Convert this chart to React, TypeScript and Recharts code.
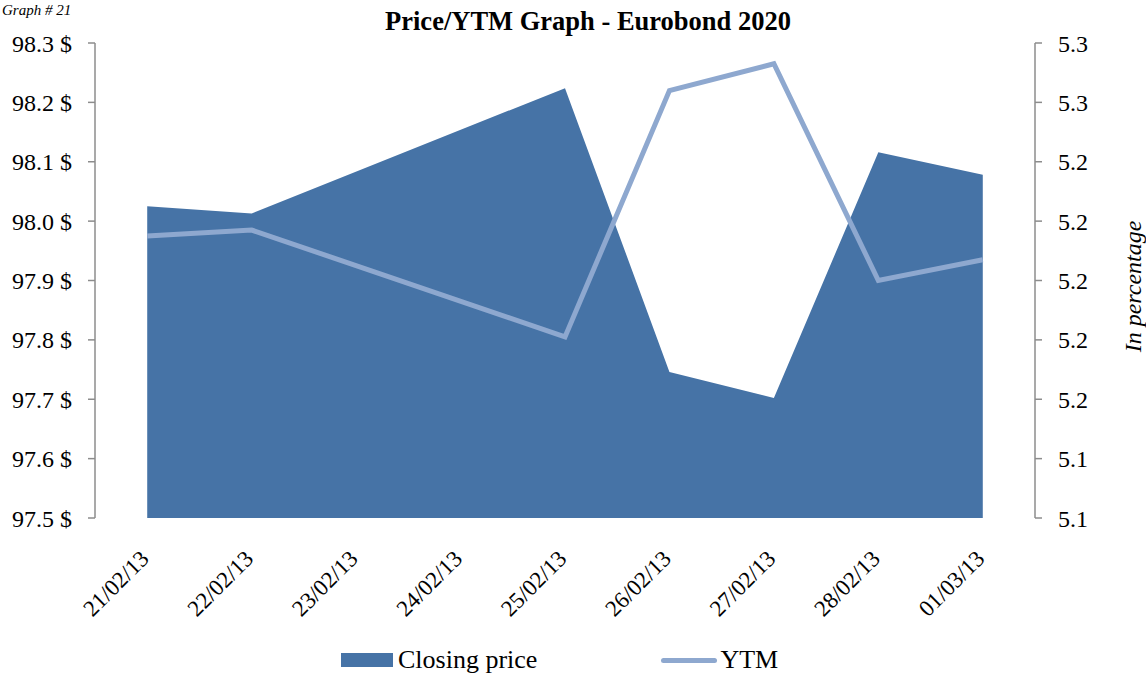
import React from 'react';
import { ComposedChart, Area, Line, XAxis, YAxis } from 'recharts';

const dates = [
  '21/02/13', '22/02/13', '23/02/13', '24/02/13', '25/02/13',
  '26/02/13', '27/02/13', '28/02/13', '01/03/13',
];
// weekend days (23/02, 24/02) have no quotes
const closingPrice = [98.025, 98.013, null, null, 98.224, 97.746, 97.702, 98.116, 98.078];
const ytm = [5.215, 5.217, null, null, 5.181, 5.264, 5.273, 5.2, 5.207];

const priceTicks = [97.5, 97.6, 97.7, 97.8, 97.9, 98.0, 98.1, 98.2, 98.3];
const ytmTicks = [5.12, 5.14, 5.16, 5.18, 5.2, 5.22, 5.24, 5.26, 5.28];
const indexTicks = [0, 1, 2, 3, 4, 5, 6, 7, 8];
const boundaryTicks = [-0.5, 0.5, 1.5, 2.5, 3.5, 4.5, 5.5, 6.5, 7.5, 8.5];

const data = dates.map((d, i) => ({ idx: i, date: d, price: closingPrice[i], ytm: ytm[i] }));

const AREA = '#4673a6';
const LINE = '#8ea8cf';
const AXIS = '#8c8c8c';
const FONT = '"Liberation Serif", "Times New Roman", serif';

const DateTick = (props: any) => {
  const { x, y, payload } = props;
  return (
    <g transform={`translate(${x + 3},${y + 34})`}>
      <text x={0} y={0} textAnchor="end" transform="rotate(-45)" style={{ fontSize: 23, fontFamily: FONT, fill: '#000' }}>
        {dates[payload.value]}
      </text>
    </g>
  );
};

export default function App() {
  const tickStyle = { fontSize: 24, fill: '#000', style: { fontFamily: FONT } };
  return (
    <div style={{ position: 'absolute', left: 0, top: 0, width: 1146, height: 677, background: '#fff', overflow: 'hidden', fontFamily: FONT }}>
      <div style={{ position: 'absolute', left: 2, top: 2, fontFamily: FONT, fontStyle: 'italic', fontSize: 15, lineHeight: '17px' }}>
        Graph # 21
      </div>
      <div style={{ position: 'absolute', left: 0, width: 1176, top: 6, textAlign: 'center', fontFamily: FONT, fontWeight: 'bold', fontSize: 26.5 }}>
        Price/YTM Graph - Eurobond 2020
      </div>
      <ComposedChart width={1146} height={677} data={data} margin={{ top: 43, right: 0, left: 0, bottom: 59 }} style={{ fontFamily: FONT }}>
        <XAxis
          xAxisId="b"
          type="number"
          domain={[-0.5, 8.5]}
          ticks={boundaryTicks}
          tickFormatter={() => ''}
          height={0}
          tickSize={7}
          stroke={AXIS}
          strokeWidth={1.5}
        />
        <XAxis
          xAxisId="d"
          dataKey="idx"
          type="number"
          domain={[-0.5, 8.5]}
          ticks={indexTicks}
          tick={<DateTick />}
          axisLine={false}
          tickLine={false}
          height={100}
          interval={0}
        />
        <YAxis
          yAxisId="p"
          orientation="left"
          domain={[97.5, 98.3]}
          ticks={priceTicks}
          tickFormatter={(v: number) => `${v.toFixed(1)} $`}
          width={95}
          tickSize={7}
          tickMargin={16}
          stroke={AXIS}
          strokeWidth={1.5}
          tick={tickStyle}
          allowDataOverflow
        />
        <YAxis
          yAxisId="y"
          orientation="right"
          domain={[5.12, 5.28]}
          ticks={ytmTicks}
          tickFormatter={(v: number) => v.toFixed(1)}
          width={111}
          tickSize={7}
          tickMargin={16}
          stroke={AXIS}
          strokeWidth={1.5}
          tick={tickStyle}
          allowDataOverflow
          label={{
            value: 'In percentage',
            angle: -90,
            position: 'center',
            dx: 42,
            dy: 6,
            style: { fontSize: 24, fontFamily: FONT, fontStyle: 'italic', fill: '#000' },
          }}
        />
        <Area
          xAxisId="d"
          yAxisId="p"
          dataKey="price"
          type="linear"
          fill={AREA}
          fillOpacity={1}
          stroke="none"
          connectNulls
          isAnimationActive={false}
        />
        <Line
          xAxisId="d"
          yAxisId="y"
          dataKey="ytm"
          type="linear"
          stroke={LINE}
          strokeWidth={5}
          dot={false}
          connectNulls
          isAnimationActive={false}
        />
      </ComposedChart>
      <div style={{ position: 'absolute', top: 645, left: 341, display: 'flex', alignItems: 'center', fontFamily: FONT, fontSize: 26 }}>
        <span style={{ display: 'inline-block', width: 52, height: 14, background: AREA, marginRight: 5 }} />
        <span>Closing price</span>
        <span style={{ display: 'inline-block', width: 56, height: 5, borderRadius: 3, background: LINE, marginLeft: 124, marginRight: 3 }} />
        <span>YTM</span>
      </div>
    </div>
  );
}
